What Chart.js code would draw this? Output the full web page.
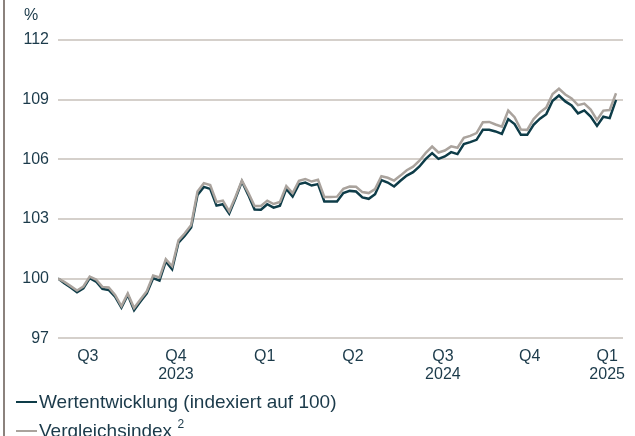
<!DOCTYPE html>
<html>
<head>
<meta charset="utf-8">
<script src="https://cdn.jsdelivr.net/npm/chart.js@4/dist/chart.umd.min.js"></script>
<style>
  html, body { margin: 0; padding: 0; background: #ffffff; }
  body { width: 635px; height: 436px; position: relative; overflow: hidden;
         font-family: "Liberation Sans", Arial, sans-serif; color: #1b3a4a; }
  #wrap { position: absolute; left: 0; top: 0; width: 635px; height: 393px; }
  #leftBorder { position: absolute; left: 3px; top: 0; width: 2px; height: 436px; background: #8b827d; }
  #unit { position: absolute; left: 24px; top: 6px; font-size: 16px; line-height: 18px; }
  .leg { position: absolute; left: 16px; font-size: 19px; line-height: 24px; white-space: nowrap; }
  .sw { display: inline-block; width: 21px; height: 2px; vertical-align: middle; margin-right: 2px; position: relative; top: -1px; }
  sup { font-size: 12px; position: relative; top: -2px; }
</style>
</head>
<body>
<div id="leftBorder"></div>
<div id="wrap"><canvas id="c"></canvas></div>
<div id="unit">%</div>
<div class="leg" id="leg1" style="top:390px"><span class="sw" style="background:#0e3c48"></span>Wertentwicklung (indexiert auf 100)</div>
<div class="leg" id="leg2" style="top:414px"><span class="sw" style="background:#aaa39d"></span>Vergleichsindex <sup>2</sup></div>
<script>
// Series values (index, start = 100)
const fundValues = [
  100.00, 99.77, 99.55, 99.31, 99.51, 100.02, 99.85, 99.48, 99.43, 99.09,
  98.54, 99.18, 98.41, 98.84, 99.26, 100.02, 99.90, 100.86, 100.47, 101.81,
  102.16, 102.57, 104.21, 104.61, 104.51, 103.67, 103.74, 103.27, 104.04, 104.88,
  104.21, 103.47, 103.46, 103.74, 103.57, 103.66, 104.51, 104.13, 104.75, 104.83,
  104.68, 104.75, 103.88, 103.88, 103.88, 104.30, 104.41, 104.38, 104.08, 104.01,
  104.24, 104.95, 104.83, 104.63, 104.92, 105.18, 105.35, 105.64, 106.02, 106.31,
  106.02, 106.14, 106.36, 106.26, 106.76, 106.86, 106.98, 107.48, 107.48, 107.40,
  107.28, 108.02, 107.77, 107.23, 107.23, 107.73, 108.04, 108.27, 108.94, 109.21,
  108.91, 108.71, 108.31, 108.46, 108.15, 107.68, 108.14, 108.07, 108.99
];
const benchmarkValues = [
  100.00, 99.83, 99.62, 99.40, 99.60, 100.10, 99.95, 99.58, 99.55, 99.18,
  98.62, 99.25, 98.52, 98.95, 99.36, 100.15, 100.05, 100.98, 100.62, 101.92,
  102.28, 102.70, 104.38, 104.80, 104.70, 103.85, 103.92, 103.38, 104.12, 104.93,
  104.32, 103.65, 103.65, 103.92, 103.75, 103.85, 104.65, 104.30, 104.92, 105.01,
  104.88, 104.97, 104.10, 104.10, 104.12, 104.52, 104.63, 104.62, 104.35, 104.30,
  104.50, 105.15, 105.07, 104.93, 105.18, 105.45, 105.63, 105.93, 106.32, 106.64,
  106.34, 106.44, 106.65, 106.58, 107.08, 107.18, 107.32, 107.86, 107.88, 107.75,
  107.64, 108.45, 108.12, 107.50, 107.48, 108.02, 108.36, 108.60, 109.28, 109.55,
  109.26, 109.06, 108.72, 108.80, 108.50, 107.98, 108.45, 108.48, 109.32
];
// Quarter tick labels and where (in observation index units) they fall
const quarterLabels = [["Q3"], ["Q4", "2023"], ["Q1"], ["Q2"], ["Q3", "2024"], ["Q4"], ["Q1", "2025"]];
const quarterTickAt = [4.7, 18.6, 32.6, 46.5, 60.7, 74.4, 86.6];
const yTicks = [97, 100, 103, 106, 109, 112];

const toPoints = arr => arr.map((v, i) => ({ x: i, y: v }));
const FONT = { family: '"Liberation Sans", Arial, sans-serif', size: 16 };
const TXT = '#1b3a4a';

new Chart(document.getElementById('c'), {
  type: 'line',
  data: {
    datasets: [
      { label: 'Vergleichsindex 2', data: toPoints(benchmarkValues), borderColor: '#aaa39d',
        borderWidth: 2.5, pointRadius: 0, tension: 0, order: 0 },
      { label: 'Wertentwicklung (indexiert auf 100)', data: toPoints(fundValues), borderColor: '#0e3c48',
        borderWidth: 2.5, pointRadius: 0, tension: 0, order: 1 }
    ]
  },
  options: {
    responsive: true,
    maintainAspectRatio: false,
    animation: false,
    events: [],
    layout: { padding: { left: 0, right: 12, top: 40, bottom: 0 } },
    plugins: { legend: { display: false }, tooltip: { enabled: false } },
    scales: {
      x: {
        type: 'linear',
        min: 0,
        max: 89.1,
        grid: { display: false, drawTicks: false },
        border: { display: false },
        afterBuildTicks: s => { s.ticks = quarterTickAt.map(v => ({ value: v })); },
        ticks: {
          autoSkip: false, maxRotation: 0, minRotation: 0, padding: 9,
          color: TXT, font: { ...FONT, lineHeight: 1.15 },
          callback: (v, i) => quarterLabels[i]
        }
      },
      y: {
        min: 97,
        max: 112,
        afterBuildTicks: s => { s.ticks = yTicks.map(v => ({ value: v })); },
        afterFit: s => { s.width = 58; },
        grid: { color: '#d5d0cb', lineWidth: 2, drawTicks: false },
        border: { display: false },
        ticks: { padding: 9, color: TXT, font: FONT }
      }
    }
  }
});
</script>
</body>
</html>
